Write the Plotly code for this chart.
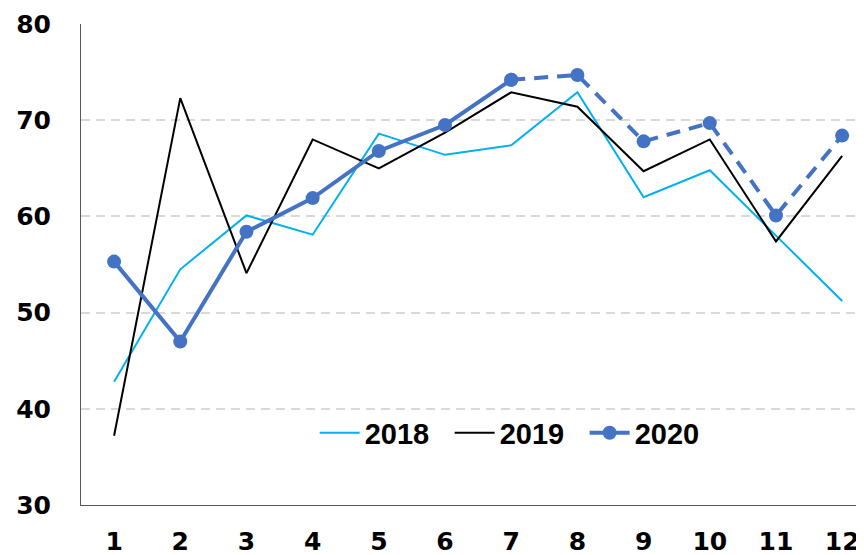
import plotly.graph_objects as go

months = [1, 2, 3, 4, 5, 6, 7, 8, 9, 10, 11, 12]
y2018 = [42.8, 54.5, 60.1, 58.1, 68.6, 66.4, 67.4, 72.9, 62.0, 64.8, 58.0, 51.2]
y2019 = [37.2, 72.3, 54.1, 68.0, 65.0, 68.7, 72.9, 71.4, 64.7, 68.0, 57.4, 66.3]
y2020 = [55.3, 47.0, 58.4, 61.9, 66.8, 69.5, 74.2, 74.7, 67.8, 69.7, 60.1, 68.4]
split = 7  # 2020 drawn solid up to month 7, dashed afterwards
yticks = [30, 40, 50, 60, 70, 80]

blue = "#4472C4"
fig = go.Figure()
fig.add_trace(go.Scatter(x=months, y=y2018, mode="lines", name="2018",
                         line=dict(color="#00B0F0", width=2)))
fig.add_trace(go.Scatter(x=months, y=y2019, mode="lines", name="2019",
                         line=dict(color="#000000", width=2)))
i = months.index(split)
fig.add_trace(go.Scatter(x=months[:i + 1], y=y2020[:i + 1], mode="lines+markers", name="2020",
                         line=dict(color=blue, width=4),
                         marker=dict(color=blue, size=14)))
fig.add_trace(go.Scatter(x=months[i:], y=y2020[i:], mode="lines+markers", name="2020",
                         showlegend=False,
                         line=dict(color=blue, width=4, dash="14px,9px"),
                         marker=dict(color=blue, size=14)))

tickfont = dict(family="DejaVu Sans", size=25, color="#000000", weight="bold")
fig.update_layout(
    width=864, height=555,
    margin=dict(l=73, r=8, t=16, b=58),
    plot_bgcolor="white", paper_bgcolor="white",
    showlegend=True,
    legend=dict(orientation="h", x=0.557, y=0.15, xanchor="center", yanchor="middle",
                bgcolor="rgba(0,0,0,0)",
                font=dict(family="Liberation Sans", size=29, color="#000000", weight="bold"),
                itemwidth=40, tracegroupgap=0, entrywidth=80),
    xaxis=dict(range=[0.5, 12.33], tickmode="array", tickvals=months,
               ticktext=[str(m) for m in months], automargin=False,
               showgrid=False, zeroline=False, showline=True, linecolor="#595959", linewidth=1,
               ticks="outside", ticklen=14, tickcolor="rgba(0,0,0,0)",
               tickfont=tickfont),
    yaxis=dict(range=[30, 80], tickmode="array", tickvals=yticks,
               ticktext=[str(v) for v in yticks], automargin=False,
               showgrid=True, gridcolor="#D9D9D9", griddash="9px,6px", gridwidth=1.5,
               zeroline=False, showline=True, linecolor="#595959", linewidth=1,
               ticks="outside", ticklen=24, tickcolor="rgba(0,0,0,0)",
               tickfont=tickfont),
)
fig.write_html("out.html")
